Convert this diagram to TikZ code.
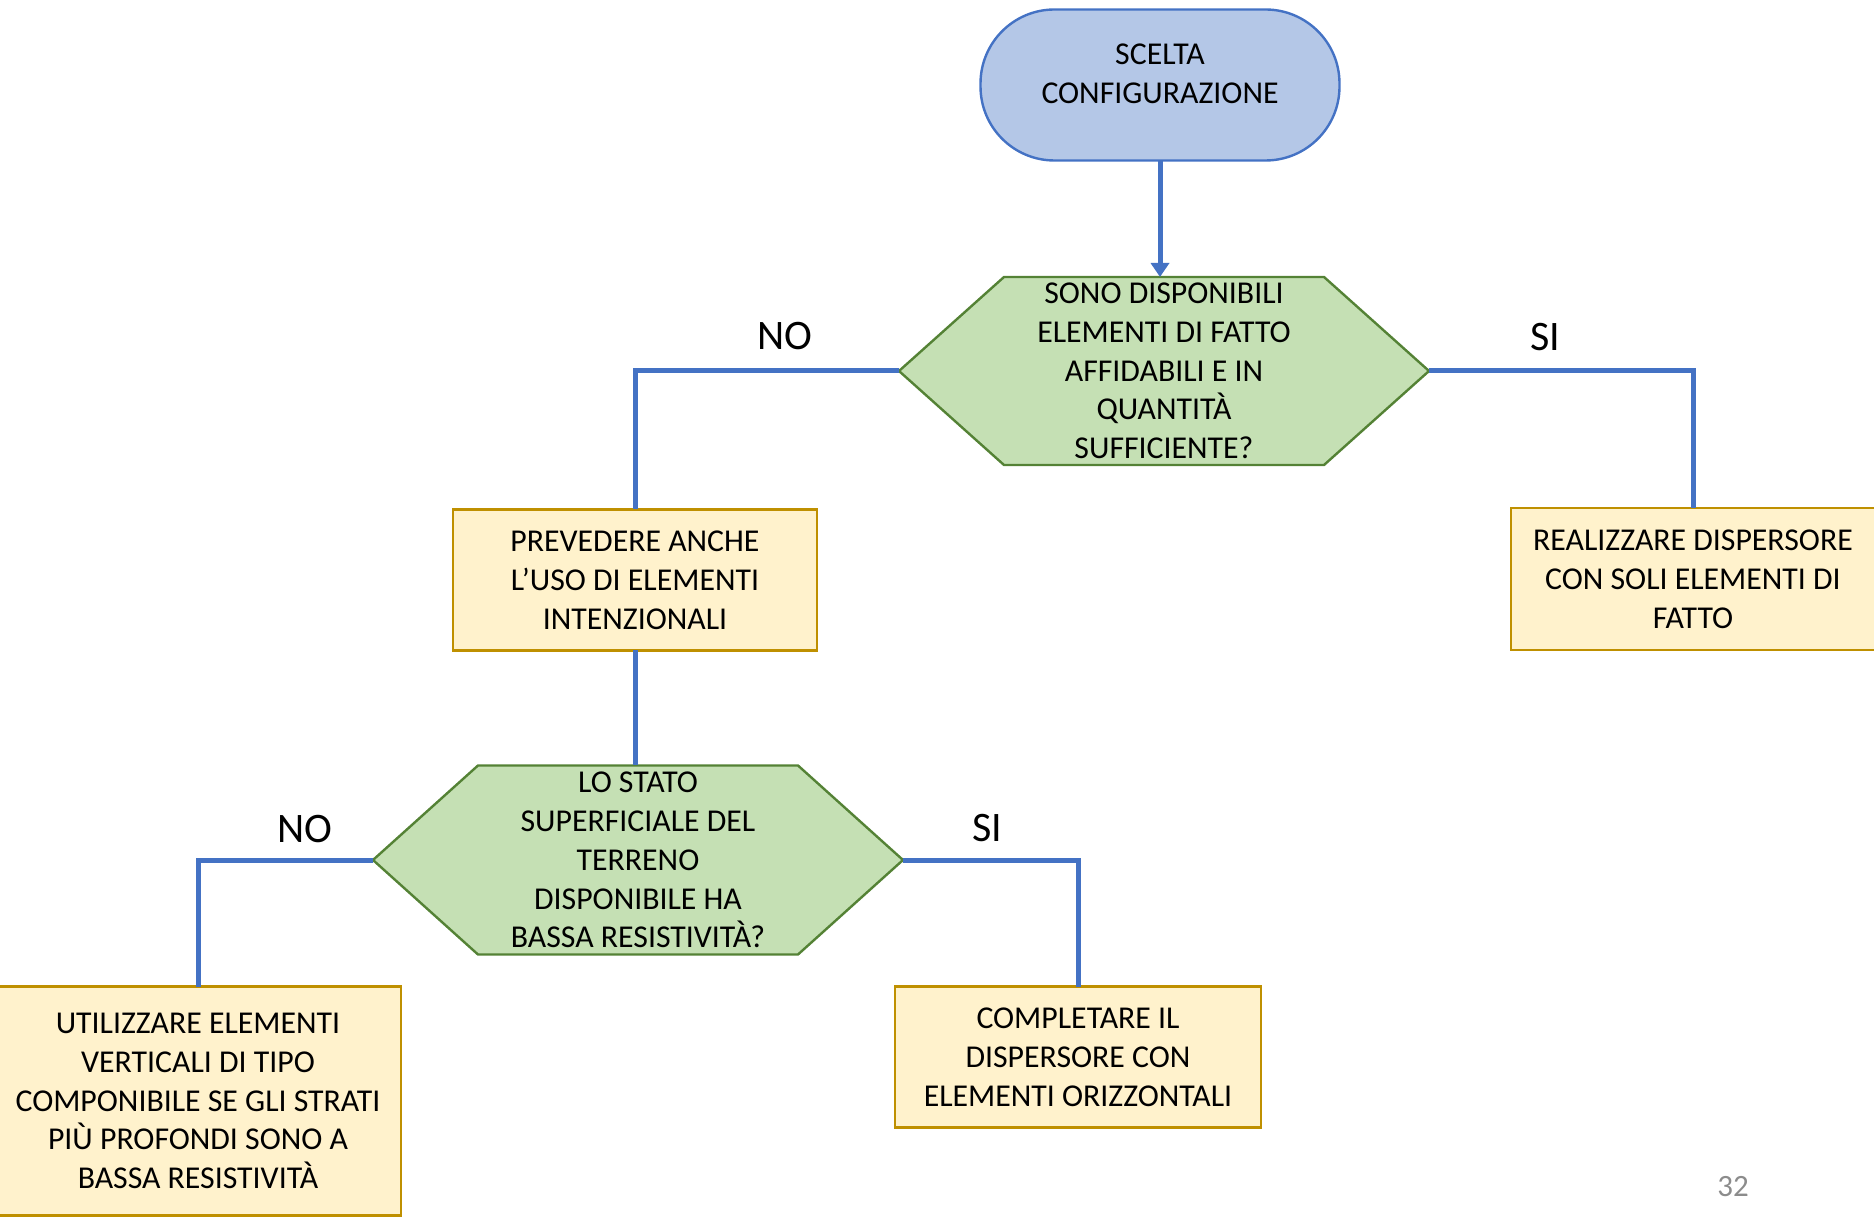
\documentclass[tikz,border=0pt]{standalone}
\usepackage{fontspec}
\setmainfont{Carlito}
\usetikzlibrary{arrows.meta,backgrounds}

\definecolor{termfill}{HTML}{B4C7E7}
\definecolor{termline}{HTML}{4472C4}
\definecolor{hexfill}{HTML}{C5E0B4}
\definecolor{hexline}{HTML}{548235}
\definecolor{boxfill}{HTML}{FFF2CC}
\definecolor{boxline}{HTML}{BF9000}
\definecolor{linkblue}{HTML}{4472C4}

\tikzset{
  term/.style={draw=termline,fill=termfill,line width=1.2pt,rounded corners=37pt,
    minimum width=179.5pt,minimum height=75.5pt,align=center,outer sep=0pt,
    text depth=11pt,font=\fontsize{15.9}{19.4}\selectfont},
  quest/.style={align=center,outer sep=0pt,inner sep=0pt,
    font=\fontsize{15.9}{19.4}\selectfont},
  todo/.style={draw=boxline,fill=boxfill,line width=1.2pt,align=center,outer sep=0pt,
    font=\fontsize{15.9}{19.4}\selectfont},
  link/.style={draw=linkblue,line width=2.5pt},
  lbl/.style={font=\fontsize{21}{25}\selectfont},
}

% hexagon behind a decision node: #1 node name, #2 inset
\newcommand{\hexa}[2]{%
  \begin{scope}[on background layer]
  \draw[draw=hexline,fill=hexfill,line width=1.2pt] (#1.west) -- ([xshift=#2]#1.north west)
    -- ([xshift=-#2]#1.north east) -- (#1.east) -- ([xshift=-#2]#1.south east)
    -- ([xshift=#2]#1.south west) -- cycle;
  \end{scope}}

\begin{document}
\begin{tikzpicture}[x=0.5pt,y=-0.5pt]
\useasboundingbox (0,0) rectangle (1874,1218);

\node[term] (start) at (1160,85) {SCELTA\\CONFIGURAZIONE};

\node[quest,minimum width=265pt,minimum height=94pt] (q1) at (1164,371)
  {SONO DISPONIBILI\\ELEMENTI DI FATTO\\AFFIDABILI E IN\\QUANTITÀ\\SUFFICIENTE?};
\hexa{q1}{52.5pt}

\node[todo,minimum width=182pt,minimum height=70.5pt] (prev) at (635,580)
  {PREVEDERE ANCHE\\L’USO DI ELEMENTI\\INTENZIONALI};
\node[todo,minimum width=182pt,minimum height=71pt] (real) at (1693,579)
  {REALIZZARE DISPERSORE\\CON SOLI ELEMENTI DI\\FATTO};

\node[quest,minimum width=265pt,minimum height=94.5pt] (q2) at (638,860)
  {LO STATO\\SUPERFICIALE DEL\\TERRENO\\DISPONIBILE HA\\BASSA RESISTIVITÀ?};
\hexa{q2}{52.5pt}

\node[todo,minimum width=203pt,minimum height=114.5pt] (util) at (198,1101)
  {UTILIZZARE ELEMENTI\\VERTICALI DI TIPO\\COMPONIBILE SE GLI STRATI\\PIÙ PROFONDI SONO A\\BASSA RESISTIVITÀ};
\node[todo,minimum width=183pt,minimum height=70.5pt] (compl) at (1078,1057)
  {COMPLETARE IL\\DISPERSORE CON\\ELEMENTI ORIZZONTALI};

% connectors
\draw[link,-{Triangle[length=7pt,width=9pt]}] (start.south) -- (start.south |- q1.north);
\draw[link] (q1.west) -| (prev.north);
\draw[link] (q1.east) -| (real.north);
\draw[link] (prev.south) -- (prev.south |- q2.north);
\draw[link] (q2.west) -| (util.north);
\draw[link] (q2.east) -| (compl.north);

\node[lbl] (no1) at (785,336) {NO};
\node[lbl] (si1) at (1545,337) {SI};
\node[lbl] (no2) at (305,829) {NO};
\node[lbl] (si2) at (987,828) {SI};

\node[text=gray!90,font=\fontsize{15.5}{18}\selectfont] (pnum) at (1733,1187) {32};
\end{tikzpicture}
\end{document}
